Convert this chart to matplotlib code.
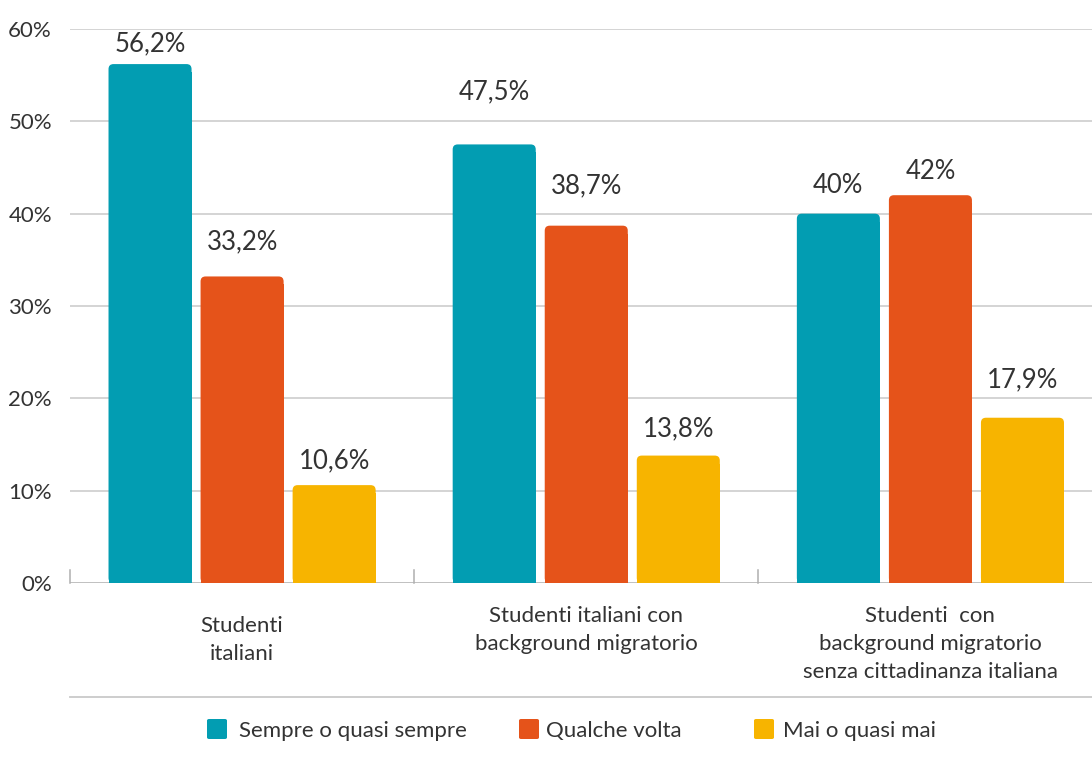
import matplotlib
matplotlib.use("Agg")
import matplotlib.pyplot as plt
from matplotlib.patches import FancyBboxPatch, Rectangle
from matplotlib.lines import Line2D
import numpy as np

# ---- data ----
categories = ["Studenti\nitaliani",
              "Studenti italiani con\nbackground migratorio",
              "Studenti  con\nbackground migratorio\nsenza cittadinanza italiana"]
series_names = ["Sempre o quasi sempre", "Qualche volta", "Mai o quasi mai"]
sempre = [56.2, 47.5, 40.0]
qualche = [33.2, 38.7, 42.0]
mai = [10.6, 13.8, 17.9]
value_labels = [["56,2%", "47,5%", "40%"],
                ["33,2%", "38,7%", "42%"],
                ["10,6%", "13,8%", "17,9%"]]
yticks = [0, 10, 20, 30, 40, 50, 60]
ytick_labels = ["0%", "10%", "20%", "30%", "40%", "50%", "60%"]

# ---- style ----
colors = ["#029DB2", "#E5531A", "#F7B400"]
label_offsets = [[20, 53, 28], [35, 40, 24], [24, 27, 38]]  # px above bar top
cat_offsets = [10, 0, 0]
text_color = "#333333"
grid_color = "#C9C9C9"
FONT = "Lato"
plt.rcParams["font.family"] = [FONT, "DejaVu Sans"]

W, H = 1092, 758
fig = plt.figure(figsize=(W / 100, H / 100), dpi=100)
ax_left, ax_right = 70 / W, 1.0
ax_bottom, ax_top = (H - 583) / H, (H - 29) / H
ax = fig.add_axes([ax_left, ax_bottom, ax_right - ax_left, ax_top - ax_bottom])

xmin, xmax = -0.5, -0.5 + (W - 70.5) / 344
ax.set_xlim(xmin, xmax)
ax.set_ylim(0, 60)

px_x = (xmax - xmin) / (W - 70)   # data units per pixel in x
px_y = 60 / (583 - 29)             # data units per pixel in y

bar_w = 83 / 344
step = 92 / 344
x = np.arange(len(categories))
all_series = [sempre, qualche, mai]

for i, (vals, col) in enumerate(zip(all_series, colors)):
    xs = x + (i - 1) * step
    bars = ax.bar(xs, vals, width=bar_w, color=col, alpha=0)
    for b, v, lab, off in zip(bars, vals, value_labels[i], label_offsets[i]):
        bx, bw = b.get_x(), b.get_width()
        r = 5 * px_x
        p = FancyBboxPatch((bx, 0), bw, v,
                           boxstyle=f"round,pad=0,rounding_size={r}",
                           mutation_aspect=px_y / px_x,
                           facecolor=col, edgecolor="none", zorder=3)
        ax.add_patch(p)
        ax.add_patch(Rectangle((bx, 0), bw, v - 8 * px_y, facecolor=col,
                               edgecolor="none", zorder=3))
        ax.text(bx + bw / 2, v + off * px_y, lab, ha="center", va="center",
                fontsize=18.5, color=text_color, zorder=4)

# grid & axes
for t in yticks[1:]:
    ax.axhline(t, color=grid_color, lw=1.1, zorder=1)
ax.axhline(0, color="#AFAFAF", lw=1.1, zorder=2)
for sx in [xmin, 0.5, 1.5]:
    ax.plot([sx, sx], [0, 13 * px_y], color="#AFAFAF", lw=1.1, zorder=2,
            clip_on=False)
for s in ax.spines.values():
    s.set_visible(False)
ax.set_xticks([])
ax.set_yticks(yticks)
ax.set_yticklabels(ytick_labels, fontsize=16, color=text_color)
ax.tick_params(axis="y", length=0, pad=13)

# category labels
for xi, cat, off in zip(x, categories, cat_offsets):
    ax.text(xi, -(23 + off) * px_y, cat, ha="center", va="top", fontsize=16,
            color=text_color, linespacing=1.5, clip_on=False)

# bottom separator line
fig.add_artist(Line2D([70 / W, 1.0], [(H - 697) / H] * 2, color=grid_color,
                      lw=1.3))

# legend (manual)
leg_sq_x = [207, 519, 754]
leg_tx_x = [239, 546, 783]
leg_y = 729
for sx, tx, col, name in zip(leg_sq_x, leg_tx_x, colors, series_names):
    fig.add_artist(FancyBboxPatch((sx / W, (H - leg_y - 10) / H), 20 / W, 20 / H,
                                  boxstyle="round,pad=0,rounding_size=0.002",
                                  transform=fig.transFigure,
                                  facecolor=col, edgecolor="none"))
    fig.text(tx / W, (H - leg_y - 2) / H, name, ha="left", va="center",
             fontsize=16, color=text_color)

fig.savefig("out.png", dpi=100)
